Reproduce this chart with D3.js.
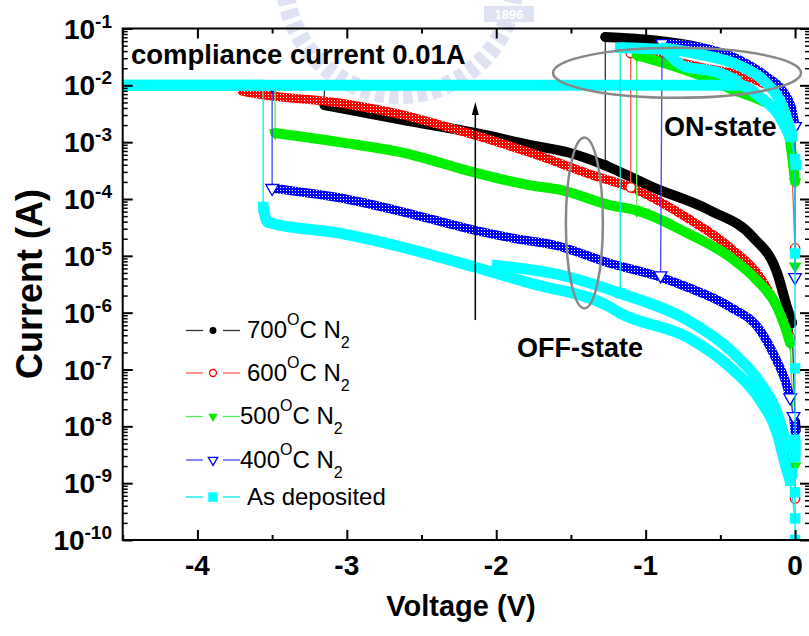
<!DOCTYPE html>
<html>
<head>
<meta charset="utf-8">
<script src="https://cdn.jsdelivr.net/npm/d3@7"></script>
<style>
  html, body { margin: 0; padding: 0; background: #fff; }
  svg { display: block; font-family: "Liberation Sans", Arial, sans-serif; }
</style>
</head>
<body>
<svg id="chart" width="809" height="636"></svg>
<script>
// axis ticks
const xTicks = [-4, -3, -2, -1, 0];
const xTickLabels = ['-4', '-3', '-2', '-1', '0'];
const xMinorTicks = [-4.5, -3.5, -2.5, -1.5, -0.5];
const yExponents = [-10, -9, -8, -7, -6, -5, -4, -3, -2, -1];

// legend categories
const seriesNames = ['700', '600', '500', '400', 'As deposited'];

// sweeps, [voltage (V), current (A)]
const s700Off = [[-3.15, 1.0e-2], [-3.15, 4.5e-3], [-2.62, 2.45e-3], [-2.14, 1.45e-3], [-1.77, 8.9e-4],
  [-1.51, 6.5e-4], [-1.28, 4.0e-4], [-0.95, 1.6e-4], [-0.57, 6.3e-5], [-0.28, 2.1e-5], [-0.12, 5.0e-6],
  [-0.054, 1.26e-6], [-0.02, 6.6e-7], [0.0, 1.2e-8], [0.005, 8.5e-9]];
const s700On = [[-1.27, 4.0e-4], [-1.27, 7.1e-2], [-0.97, 6.3e-2], [-0.64, 4.6e-2], [-0.37, 2.5e-2],
  [-0.17, 1.1e-2], [-0.07, 4.5e-3], [-0.02, 1.5e-3]];

const s600Off = [[-3.70, 1.0e-2], [-3.70, 7.9e-3], [-3.05, 4.9e-3], [-2.62, 3.0e-3], [-2.14, 1.32e-3],
  [-1.77, 6.5e-4], [-1.33, 2.5e-4], [-1.10, 1.6e-4], [-0.72, 4.6e-5], [-0.435, 1.4e-5], [-0.234, 4.2e-6],
  [-0.10, 9.8e-7], [-0.033, 3.7e-7], [0.0, 5.4e-10]];
const s600On = [[-1.10, 1.6e-4], [-1.10, 3.7e-2], [-0.636, 2.1e-2], [-0.234, 1.15e-2], [-0.10, 5.5e-3],
  [-0.033, 2.0e-3], [0.0, 1.35e-5]];

const s500Off = [[-3.48, 1.0e-2], [-3.48, 1.45e-3], [-3.05, 1.0e-3], [-2.62, 6.5e-4], [-2.14, 2.9e-4],
  [-1.77, 1.74e-4], [-1.57, 1.45e-4], [-1.24, 7.8e-5], [-1.06, 6.3e-5], [-0.72, 2.5e-5], [-0.435, 9.5e-6],
  [-0.254, 3.7e-6], [-0.12, 1.26e-6], [-0.067, 5.6e-7], [-0.033, 2.9e-7], [0.0, 2.0e-9]];
const s500On = [[-1.06, 6.3e-5], [-1.06, 3.4e-2], [-0.636, 1.5e-2], [-0.415, 8.3e-3], [-0.234, 5.5e-3],
  [-0.12, 3.7e-3], [-0.054, 2.0e-3], [0.0, 2.0e-4], [0.0, 6.6e-6]];

const s400Off = [[-3.50, 1.0e-2], [-3.50, 1.55e-4], [-3.05, 1.05e-4], [-2.62, 5.9e-5], [-2.14, 2.8e-5],
  [-1.87, 2.0e-5], [-1.61, 1.55e-5], [-1.24, 7.4e-6], [-0.90, 4.2e-6], [-0.72, 2.8e-6], [-0.435, 1.26e-6],
  [-0.234, 4.9e-7], [-0.134, 1.66e-7], [-0.067, 6.5e-8], [-0.033, 3.2e-8], [-0.01, 1.5e-8], [0.0, 8.0e-9]];
const s400On = [[-0.90, 4.5e-6], [-0.89, 5.5e-2], [-0.636, 4.7e-2], [-0.37, 2.8e-2], [-0.187, 1.4e-2],
  [-0.087, 8.3e-3], [-0.02, 3.7e-3], [0.0, 1.9e-3], [0.0, 4.2e-6]];

const sAsOff = [[-4.50, 1.0e-2], [-3.56, 1.0e-2], [-3.56, 7.2e-5], [-3.53, 3.9e-5], [-3.05, 2.5e-5],
  [-2.62, 1.4e-5], [-2.14, 6.3e-6], [-1.77, 3.3e-6], [-1.24, 1.26e-6], [-1.17, 9.8e-7], [-0.72, 3.7e-7],
  [-0.435, 1.1e-7], [-0.234, 2.9e-8], [-0.12, 7.6e-9], [-0.067, 2.2e-9], [-0.033, 1.1e-9], [0.0, 2.4e-10]];
const sAsOffB = [[-2.03, 6.9e-6], [-1.57, 4.6e-6], [-1.17, 2.2e-6], [-0.72, 7.4e-7], [-0.435, 2.2e-7],
  [-0.234, 5.8e-8], [-0.12, 1.7e-8], [-0.054, 4.3e-9], [-0.02, 1.5e-9]];
const sAsOn = [[-4.50, 1.0e-2], [-0.37, 1.0e-2], [-0.234, 6.2e-3], [-0.10, 2.75e-3], [-0.033, 1.23e-3],
  [0.0, 5.0e-4], [0.0, 1.1e-5], [0.0, 1.05e-7], [0.0, 5.8e-9], [0.0, 2.9e-9], [0.0, 6.9e-10], [0.0, 1.0e-10]];
const sAsOnB = [[-1.17, 2.2e-6], [-1.17, 4.6e-2], [-0.90, 4.3e-2], [-0.75, 2.2e-2], [-0.52, 1.7e-2],
  [-0.37, 1.15e-2]];
const sAsOnC = [[-0.90, 4.6e-2], [-0.636, 3.5e-2], [-0.37, 2.2e-2], [-0.20, 1.15e-2], [-0.087, 4.5e-3],
  [-0.02, 1.3e-3], [0.005, 4.0e-4]];

const series = [
  { name: '700', sweeps: [s700Off, s700On] },
  { name: '600', sweeps: [s600Off, s600On] },
  { name: '500', sweeps: [s500Off, s500On] },
  { name: '400', sweeps: [s400Off, s400On] },
  { name: 'As deposited', sweeps: [sAsOff, sAsOffB, sAsOn, sAsOnB, sAsOnC] }
];

// look of each series
const styles = {
  '700': { fill: '#000', band: '#000', line: '#333', shape: 'circle', open: false, width: 10, cap: 'round' },
  '600': { fill: '#ff0000', band: 'url(#hatchRed)', line: '#ff5555', shape: 'circle', open: true, width: 9, cap: 'round' },
  '500': { fill: '#00ee00', band: '#00ee00', line: '#55ee55', shape: 'tri', open: false, width: 10, cap: 'round' },
  '400': { fill: '#0000ff', band: 'url(#hatchBlue)', line: '#4444ff', shape: 'tri', open: true, width: 9, cap: 'round' },
  'As deposited': { fill: '#00ffff', band: '#00ffff', line: '#00e8e8', shape: 'square', open: false, width: 11, cap: 'butt' }
};

const svg = d3.select('#chart');
const W = 809, H = 636;
const x = d3.scaleLinear().domain([-4.5, 0.1]).range([122.7, 810]);
const y = d3.scaleLog().domain([1e-10, 1e-1]).range([540, 28.5]);
const [x0, x1] = x.range();
const [yb, yt] = y.range();

const defs = svg.append('defs');
defs.append('clipPath').attr('id', 'plotClip')
  .append('rect').attr('x', x0).attr('y', yt).attr('width', x1 - x0).attr('height', yb - yt);
function hatch(id, color) {
  const p = defs.append('pattern').attr('id', id).attr('width', 3).attr('height', 3)
    .attr('patternUnits', 'userSpaceOnUse');
  p.append('rect').attr('width', 3).attr('height', 3).attr('fill', color);
  p.append('rect').attr('x', 1).attr('y', 1).attr('width', 1).attr('height', 1).attr('fill', '#fff');
}
hatch('hatchRed', '#ff0000');
hatch('hatchBlue', '#0000ff');

svg.append('rect').attr('width', W).attr('height', H).attr('fill', '#fff');

// faint watermark at the top
const wm = svg.append('g').attr('opacity', 0.28);
wm.append('circle').attr('cx', 400).attr('cy', -20).attr('r', 115)
  .attr('fill', 'none').attr('stroke', '#8c9bd6').attr('stroke-width', 18)
  .attr('stroke-dasharray', '9 5');
wm.append('rect').attr('x', 484).attr('y', 6).attr('width', 50).attr('height', 16).attr('fill', '#8c9bd6');
wm.append('text').attr('x', 509).attr('y', 19).attr('text-anchor', 'middle')
  .attr('font-size', 13).attr('font-weight', 'bold').attr('fill', '#fff').text('1896');

// marker shapes
function markerPath(shape, size) {
  if (shape === 'circle') return d3.symbol(d3.symbolCircle, size)();
  if (shape === 'square') return d3.symbol(d3.symbolSquare, size)();
  return d3.symbol(d3.symbolTriangle, size)();
}
function drawMarker(g, st, px, py, size) {
  const m = g.append('path')
    .attr('d', markerPath(st.shape, size))
    .attr('transform', `translate(${px},${py})` + (st.shape === 'tri' ? ' rotate(180)' : ''));
  if (st.open) m.attr('fill', '#fff').attr('stroke', st.fill).attr('stroke-width', 1.3);
  else m.attr('fill', st.fill);
}

// a sweep jumps where it is steep and sparse: only the thin line shows there
function jumpFlags(p) {
  return p.map((d, i) => i > 0 &&
    Math.abs(d[0] - p[i - 1][0]) < 6 && Math.abs(d[1] - p[i - 1][1]) > 18);
}
function splitRuns(p, jump) {
  const runs = [];
  let cur = [p[0]];
  for (let i = 1; i < p.length; i++) {
    if (jump[i]) { runs.push(cur); cur = [p[i]]; }
    else cur.push(p[i]);
  }
  runs.push(cur);
  return runs.filter(r => r.length > 1);
}

const plot = svg.append('g').attr('clip-path', 'url(#plotClip)');
const thin = d3.line();
const smooth = d3.line().curve(d3.curveMonotoneX);

series.forEach(s => {
  const st = styles[s.name];
  const g = plot.append('g');
  s.sweeps.forEach(sw => {
    const pts = sw.map(d => [x(d[0]), y(d[1])]);
    const jump = jumpFlags(pts);
    g.append('path').attr('d', thin(pts)).attr('fill', 'none')
      .attr('stroke', st.line).attr('stroke-width', 1.3);
    splitRuns(pts, jump).forEach(run => {
      g.append('path').attr('d', smooth(run)).attr('fill', 'none')
        .attr('stroke', st.band).attr('stroke-width', st.width)
        .attr('stroke-linecap', st.cap).attr('stroke-linejoin', 'round');
    });
    const size = st.shape === 'square' ? 110 : 70;
    pts.forEach((p, i) => {
      if (jump[i] || jump[i + 1]) drawMarker(g, st, p[0], p[1], size);
    });
  });
});

// annotations
const onEllipse = { v: -0.79, i: 1.66e-2, rx: 124, ry: 25 };
const offEllipse = { v: -1.41, i: 3.8e-5, rx: 18.5, ry: 85.5 };
[onEllipse, offEllipse].forEach(e => {
  svg.append('ellipse').attr('cx', x(e.v)).attr('cy', y(e.i)).attr('rx', e.rx).attr('ry', e.ry)
    .attr('fill', 'none').attr('stroke', '#888').attr('stroke-width', 2.5);
});
const arrowV = -2.14, arrowFrom = 7.4e-7, arrowTo = 5.1e-3;
const ax = x(arrowV), ay0 = y(arrowFrom), ay1 = y(arrowTo);
svg.append('line').attr('x1', ax).attr('x2', ax).attr('y1', ay0).attr('y2', ay1 + 10)
  .attr('stroke', '#000').attr('stroke-width', 1.5);
svg.append('path').attr('d', `M${ax},${ay1} L${ax - 3.5},${ay1 + 13} L${ax + 3.5},${ay1 + 13} Z`).attr('fill', '#000');

svg.append('text').attr('x', 131).attr('y', 64).attr('font-size', 27.5).attr('font-weight', 'bold')
  .text('compliance current 0.01A');
svg.append('text').attr('x', 664).attr('y', 136).attr('font-size', 27).attr('font-weight', 'bold')
  .text('ON-state');
svg.append('text').attr('x', 517).attr('y', 357).attr('font-size', 27).attr('font-weight', 'bold')
  .text('OFF-state');

// axes
const yMajor = yExponents.map(e => Math.pow(10, e));
const yMinor = [];
yExponents.slice(0, -1).forEach(e => { for (let m = 2; m <= 9; m++) yMinor.push(m * Math.pow(10, e)); });

function styleAxis(g, w) {
  g.select('.domain').remove();
  g.selectAll('line').attr('stroke', '#000').attr('stroke-width', w);
}
const axes = svg.append('g');
axes.append('g').attr('transform', `translate(${x0},0)`)
  .call(d3.axisLeft(y).tickValues(yMajor).tickSize(-10).tickFormat('')).call(g => styleAxis(g, 2));
axes.append('g').attr('transform', `translate(${x0},0)`)
  .call(d3.axisLeft(y).tickValues(yMinor).tickSize(-5).tickFormat('')).call(g => styleAxis(g, 1.5));
axes.append('g').attr('transform', `translate(${x1},0)`)
  .call(d3.axisRight(y).tickValues(yMajor).tickSize(-10).tickFormat('')).call(g => styleAxis(g, 2));
axes.append('g').attr('transform', `translate(${x1},0)`)
  .call(d3.axisRight(y).tickValues(yMinor).tickSize(-5).tickFormat('')).call(g => styleAxis(g, 1.5));
axes.append('g').attr('transform', `translate(0,${yb})`)
  .call(d3.axisBottom(x).tickValues(xTicks).tickSize(-10).tickFormat('')).call(g => styleAxis(g, 2));
axes.append('g').attr('transform', `translate(0,${yb})`)
  .call(d3.axisBottom(x).tickValues(xMinorTicks).tickSize(-5).tickFormat('')).call(g => styleAxis(g, 2));
axes.append('g').attr('transform', `translate(0,${yt})`)
  .call(d3.axisTop(x).tickValues(xTicks).tickSize(-10).tickFormat('')).call(g => styleAxis(g, 2));
axes.append('g').attr('transform', `translate(0,${yt})`)
  .call(d3.axisTop(x).tickValues(xMinorTicks).tickSize(-5).tickFormat('')).call(g => styleAxis(g, 2));
axes.append('rect').attr('x', x0).attr('y', yt).attr('width', x1 - x0).attr('height', yb - yt)
  .attr('fill', 'none').attr('stroke', '#000').attr('stroke-width', 2);

// tick labels
xTicks.forEach((v, k) => {
  axes.append('text').attr('x', x(v)).attr('y', 575).attr('text-anchor', 'middle')
    .attr('font-size', 28).attr('font-weight', 'bold').text(xTickLabels[k]);
});
yExponents.forEach(e => {
  const t = axes.append('text').attr('x', 112).attr('y', y(Math.pow(10, e)) + 10)
    .attr('text-anchor', 'end').attr('font-size', 28).attr('font-weight', 'bold');
  t.append('tspan').text('10');
  t.append('tspan').attr('dy', -11).attr('font-size', 19).text(String(e));
});

// axis titles
svg.append('text').attr('x', 461).attr('y', 616).attr('text-anchor', 'middle')
  .attr('font-size', 29).attr('font-weight', 'bold').text('Voltage (V)');
svg.append('text').attr('transform', 'translate(42,284) rotate(-90)').attr('text-anchor', 'middle')
  .attr('font-size', 36).attr('font-weight', 'bold').text('Current (A)');

// legend
const legendRows = [330.5, 373, 416.5, 460, 497];
const legendTextX = [247, 247, 240, 240, 247];
const legend = svg.append('g');
seriesNames.forEach((name, k) => {
  const st = styles[name];
  const ly = legendRows[k];
  legend.append('line').attr('x1', 186).attr('x2', 203).attr('y1', ly).attr('y2', ly)
    .attr('stroke', st.line).attr('stroke-width', 1.3);
  legend.append('line').attr('x1', 223).attr('x2', 240).attr('y1', ly).attr('y2', ly)
    .attr('stroke', st.line).attr('stroke-width', 1.3);
  drawMarker(legend, st, 213, ly, st.shape === 'square' ? 90 : 38);
  const t = legend.append('text').attr('x', legendTextX[k]).attr('y', ly + 7.5).attr('font-size', 24);
  if (name === 'As deposited') {
    t.text(name);
  } else {
    t.append('tspan').text(name);
    t.append('tspan').attr('dy', -13).attr('font-size', 16).text('O');
    t.append('tspan').attr('dy', 13).text('C N');
    t.append('tspan').attr('dy', 10).attr('font-size', 16).text('2');
  }
});
</script>
</body>
</html>
